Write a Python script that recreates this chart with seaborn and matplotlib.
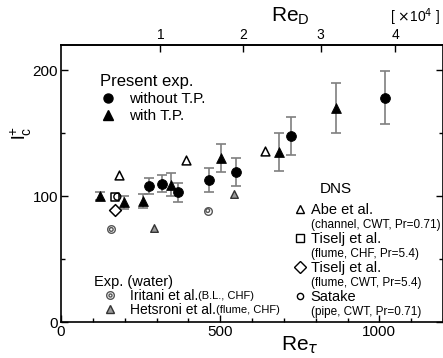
import numpy as np
import matplotlib
matplotlib.use('Agg')
import matplotlib.pyplot as plt
import seaborn as sns
from matplotlib.lines import Line2D
from matplotlib.legend_handler import HandlerTuple
from matplotlib.ticker import MultipleLocator

sns.set_theme(style='ticks')
plt.rcParams['font.family'] = ['Liberation Sans', 'DejaVu Sans']
plt.rcParams['text.color'] = 'black'
plt.rcParams['xtick.color'] = 'black'
plt.rcParams['ytick.color'] = 'black'
plt.rcParams['axes.edgecolor'] = 'black'

# --- data ---
# present experiment, without turbulence promoter
wo_re = [276, 316, 369, 466, 549, 724, 1018]
wo_lc = [108, 110, 103, 113, 119, 148, 178]
wo_err = [6, 7, 7.5, 9.5, 11, 15, 21]

# present experiment, with turbulence promoter
w_re = [124, 197, 257, 346, 503, 686, 865]
w_lc = [100, 95, 96, 109, 130, 135, 170]
w_err = [3, 5, 5.5, 9, 11, 15, 20]

# DNS
abe_re = [181, 393, 640]
abe_lc = [117, 128.5, 135.5]
tis_chf_re = [169]
tis_chf_lc = [99.5]
tis_cwt_re = [169]
tis_cwt_lc = [89]
satake_re = [177]
satake_lc = [99.5]

# experiments in water
iritani_re = [158, 461]
iritani_lc = [73.5, 88.5]
hetsroni_re = [292, 542]
hetsroni_lc = [75, 102]

# Re_tau = 312 * (Re_D / 1e4) ** 0.875 (from top axis)
red_ticks = [1, 2, 3, 4]

fig = plt.figure(figsize=(4.43, 3.58), dpi=100)
ax = fig.add_axes([61 / 443, 1 - 322 / 358, 382 / 443, 277 / 358])

# error bars
ax.errorbar(wo_re, wo_lc, yerr=wo_err, fmt='none', ecolor='#7f7f7f',
            elinewidth=1.2, capsize=3.5, capthick=1.2, zorder=2)
ax.errorbar(w_re, w_lc, yerr=w_err, fmt='none', ecolor='#7f7f7f',
            elinewidth=1.2, capsize=3.5, capthick=1.2, zorder=2)

kw = dict(ax=ax, legend=False, zorder=3)
sns.scatterplot(x=wo_re, y=wo_lc, marker='o', color='black', s=50, edgecolor='black', **kw)
sns.scatterplot(x=w_re, y=w_lc, marker='^', color='black', s=50, edgecolor='black', **kw)
sns.scatterplot(x=abe_re, y=abe_lc, marker='^', facecolor='white', edgecolor='black',
                s=40, linewidth=1.1, **kw)
sns.scatterplot(x=tis_chf_re, y=tis_chf_lc, marker='s', facecolor='white', edgecolor='black',
                s=38, linewidth=1.1, **kw)
sns.scatterplot(x=tis_cwt_re, y=tis_cwt_lc, marker='D', facecolor='white', edgecolor='black',
                s=36, linewidth=1.1, **kw)
sns.scatterplot(x=satake_re, y=satake_lc, marker='o', facecolor='none', edgecolor='black',
                s=25, linewidth=1.0, **kw)
sns.scatterplot(x=iritani_re, y=iritani_lc, marker='o', facecolor='white', edgecolor='#555555',
                s=30, linewidth=1.0, **kw)
sns.scatterplot(x=iritani_re, y=iritani_lc, marker='o', facecolor='none', edgecolor='#555555',
                s=7, linewidth=1.0, **kw)
sns.scatterplot(x=hetsroni_re, y=hetsroni_lc, marker='^', facecolor='#999999', edgecolor='#333333',
                s=30, linewidth=1.0, **kw)

ax.set_xlim(0, 1200)
ax.set_ylim(0, 220)
ax.set_xticks([0, 500, 1000])
ax.set_yticks([0, 100, 200])
ax.xaxis.set_minor_locator(MultipleLocator(100))
ax.yaxis.set_minor_locator(MultipleLocator(50))
ax.tick_params(which='both', direction='in', top=False, right=True, labelsize=11,
               width=1.0, pad=2, colors='black')
ax.tick_params(which='major', length=5)
ax.tick_params(which='minor', length=3)
ax.set_xlabel('')
ax.set_ylabel('')
for sp in ax.spines.values():
    sp.set_linewidth(1.2)
    sp.set_color('black')


def fwd(x):
    return (np.clip(x, 1e-9, None) / 312.0) ** (1 / 0.875)


def inv(x):
    return 312.0 * np.clip(x, 1e-9, None) ** 0.875


sec = ax.secondary_xaxis('top', functions=(fwd, inv))
sec.set_xticks(red_ticks)
sec.set_xticklabels([str(t) for t in red_ticks])
sec.tick_params(direction='in', length=5, labelsize=10, pad=2, width=1.0, colors='black')
sec.xaxis.set_minor_locator(matplotlib.ticker.NullLocator())
sec.spines['top'].set_linewidth(1.2)
sec.spines['top'].set_color('black')

# axis labels
fig.text(300 / 443, 1 - 345 / 358, r'Re$_\tau$', fontsize=15, ha='center', va='center')
fig.text(290 / 443, 1 - 16 / 358, r'Re$_\mathregular{D}$', fontsize=15, ha='center', va='center')
fig.text(415 / 443, 1 - 17 / 358, r'[ $\times$10$^4$ ]', fontsize=10, ha='center', va='center')
fig.text(21 / 443, 1 - 133 / 358, r'l$_\mathregular{c}^\mathregular{+}$', fontsize=14,
         rotation=90, ha='center', va='center')

# legend: present experiment
h_wo = Line2D([], [], marker='o', color='black', linestyle='none', markersize=6.5)
h_w = Line2D([], [], marker='^', color='black', linestyle='none', markersize=6.5)
leg1 = ax.legend([h_wo, h_w], ['without T.P.', 'with T.P.'], title='Present exp.',
                 loc='upper left', bbox_to_anchor=(0.095, 0.905), frameon=False,
                 fontsize=11, title_fontsize=12, alignment='left', handlelength=1.0,
                 handletextpad=0.9, labelspacing=0.2, borderpad=0.2, borderaxespad=0)
ax.add_artist(leg1)

# legend: experiments in water
h_ir = (Line2D([], [], marker='o', markerfacecolor='white', markeredgecolor='#555555',
               linestyle='none', markersize=5.5),
        Line2D([], [], marker='o', markerfacecolor='none', markeredgecolor='#555555',
               linestyle='none', markersize=2.2))
h_he = Line2D([], [], marker='^', markerfacecolor='#999999', markeredgecolor='#333333',
              linestyle='none', markersize=5.5)
leg2 = ax.legend([h_ir, h_he], ['Iritani et al.', 'Hetsroni et al.'], title='Exp. (water)',
                 loc='upper left', bbox_to_anchor=(0.078, 0.18), frameon=False,
                 fontsize=10, title_fontsize=10.5, alignment='left', handlelength=2.4,
                 handletextpad=0.2, labelspacing=0.0, borderpad=0.2, borderaxespad=0,
                 handler_map={tuple: HandlerTuple(ndivide=1)})
ax.add_artist(leg2)

# legend: DNS
fig.text(320 / 443, 1 - 189 / 358, 'DNS', fontsize=11, ha='left', va='center')
blank = Line2D([], [], linestyle='none')
h_abe = Line2D([], [], marker='^', markerfacecolor='white', markeredgecolor='black',
               linestyle='none', markersize=6)
h_sq = Line2D([], [], marker='s', markerfacecolor='white', markeredgecolor='black',
              linestyle='none', markersize=6)
h_di = Line2D([], [], marker='D', markerfacecolor='white', markeredgecolor='black',
              linestyle='none', markersize=6)
h_sa = Line2D([], [], marker='o', markerfacecolor='white', markeredgecolor='black',
              linestyle='none', markersize=4.5)
dns_labels = ['Abe et al.', '(channel, CWT, Pr=0.71)',
              'Tiselj et al.', '(flume, CHF, Pr=5.4)',
              'Tiselj et al.', '(flume, CWT, Pr=5.4)',
              'Satake', '(pipe, CWT, Pr=0.71)']
leg3 = ax.legend([h_abe, blank, h_sq, blank, h_di, blank, h_sa, blank], dns_labels,
                 loc='upper left', bbox_to_anchor=(0.598, 0.44),
                 frameon=False, fontsize=10.5, handlelength=1.0, handletextpad=0.25,
                 labelspacing=0.06, borderpad=0.2, borderaxespad=0)
for i, t in enumerate(leg3.get_texts()):
    if i % 2 == 1:
        t.set_fontsize(8.5)

# small suffixes after water-experiment labels
fig.canvas.draw()
renderer = fig.canvas.get_renderer()
for t, suffix in zip(leg2.get_texts(), ['(B.L., CHF)', '(flume, CHF)']):
    bb = t.get_window_extent(renderer)
    fig.text(bb.x1 / fig.bbox.width, (bb.y0 + bb.y1) / 2 / fig.bbox.height, suffix,
             fontsize=8, ha='left', va='center')

fig.savefig('out.png', dpi=100)
